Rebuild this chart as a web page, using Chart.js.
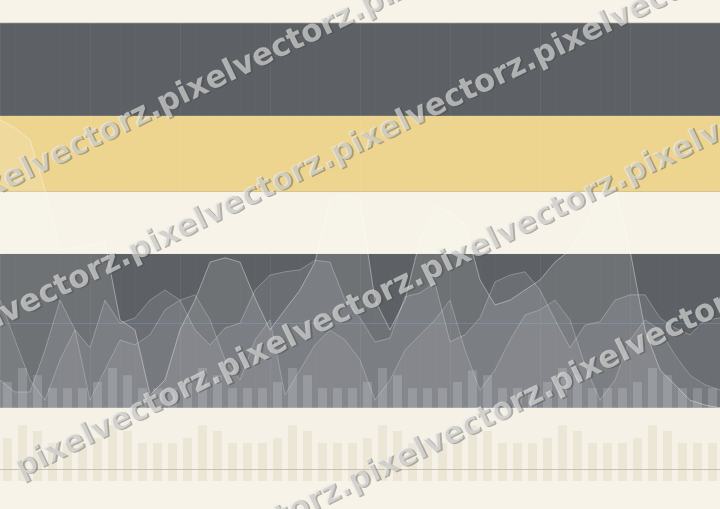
<!DOCTYPE html>
<html>
<head>
<meta charset="utf-8">
<script src="https://cdn.jsdelivr.net/npm/chart.js@4"></script>
<style>
  html, body { margin: 0; padding: 0; background: #f7f3e8; }
  canvas { display: block; }
</style>
</head>
<body>
<canvas id="chart" width="720" height="509"></canvas>
<script>
// values, y scale 0..100
const peakSeries = [75.1, 73.4, 70.9, 60.5, 48.0, 48.6, 49.1, 49.5, 33.5, 31.4, 17.9, 21.0, 31.4, 37.6, 45.5, 46.4, 45.5, 38.0, 31.4, 35.6, 39.7, 45.5, 58.4, 59.5, 58.4, 37.6, 31.4, 37.6, 50.1, 57.0, 55.9, 53.2, 41.8, 36.6, 37.6, 39.7, 41.8, 45.5, 48.0, 53.2, 59.5, 60.9, 48.0, 31.4, 23.1, 20.0, 16.8, 15.8, 15.2];
const midSeries = [21.0, 18.5, 18.5, 27.2, 37.6, 31.4, 27.7, 37.6, 32.8, 33.9, 37.6, 39.7, 37.6, 31.4, 28.3, 31.8, 32.8, 39.7, 42.8, 43.5, 43.9, 45.9, 45.5, 37.6, 33.9, 28.9, 29.7, 38.3, 39.1, 41.2, 28.9, 30.4, 33.9, 41.4, 42.8, 43.5, 39.7, 33.5, 27.7, 32.4, 33.1, 37.6, 38.7, 38.7, 33.9, 31.8, 30.4, 33.5, 33.9];
const lowSeries = [37.6, 29.3, 21.0, 16.8, 25.2, 31.4, 16.8, 23.1, 29.3, 28.3, 30.4, 35.6, 37.6, 38.7, 33.5, 25.2, 21.0, 29.3, 33.5, 17.9, 23.1, 28.3, 31.4, 29.3, 25.2, 16.8, 21.0, 27.2, 30.4, 33.5, 37.6, 27.2, 18.9, 23.1, 29.3, 34.5, 35.6, 37.6, 33.5, 24.1, 16.8, 21.0, 29.3, 33.5, 31.4, 26.2, 22.0, 20.0, 18.9];

// bars: upper ones float on the dark band, lower ones stand on the base
const barBase = 15.2;
const upperBars = [20.6, 23.5, 22.0, 19.3, 19.3, 19.3, 20.6, 23.5, 22.0, 19.3, 19.3, 19.3, 20.6, 23.5, 22.0, 19.3, 19.3, 19.3, 20.6, 23.5, 22.0, 19.3, 19.3, 19.3, 20.6, 23.5, 22.0, 19.3, 19.3, 19.3, 20.6, 23.0, 22.0, 19.3, 19.3, 19.3, 20.6, 23.5, 22.0, 19.3, 19.3, 19.3, 20.6, 23.5, 22.0, 19.3, 19.3, 19.3];
const lowerBars = [8.9, 11.6, 10.4, 7.9, 7.9, 7.9, 8.9, 11.6, 10.4, 7.9, 7.9, 7.9, 8.9, 11.6, 10.4, 7.9, 7.9, 7.9, 8.9, 11.6, 10.4, 7.9, 7.9, 7.9, 8.9, 11.6, 10.4, 7.9, 7.9, 7.9, 8.9, 11.6, 10.4, 7.9, 7.9, 7.9, 8.9, 11.6, 10.4, 7.9, 7.9, 7.9, 8.9, 11.6, 10.4, 7.9, 7.9, 7.9];

const barLabels = Array.from({ length: upperBars.length }, (_, i) => `b${i + 1}`);
const lineLabels = Array.from({ length: peakSeries.length }, (_, i) => `p${i}`);
const gridLevels = [2.3, 32.8];

const bands = {
  id: 'bands',
  beforeDraw(chart) {
    const { ctx, width, height, chartArea: { left, right } } = chart;
    const y = chart.scales.y;
    const rows = [
      [100, 95.2, '#f7f3e8'],
      [95.2, 75.9, '#5d6165'],
      [75.9, 60.1, '#edd590'],
      [60.1, 47.2, '#f7f3e8'],
      [47.2, 15.2, '#5d6165'],
      [15.2, 0, '#f5f0e2'],
    ];
    ctx.save();
    ctx.fillStyle = '#f7f3e8';
    ctx.fillRect(0, 0, width, height);
    rows.forEach(([from, to, color]) => {
      const top = y.getPixelForValue(from);
      const bottom = y.getPixelForValue(to);
      ctx.fillStyle = color;
      ctx.fillRect(left, top, right - left, bottom - top);
    });
    ctx.fillStyle = '#d4c48c';
    ctx.fillRect(left, y.getPixelForValue(60.1) - 1, right - left, 1);
    ctx.fillStyle = '#d9d4c6';
    ctx.fillRect(left, y.getPixelForValue(95.2) - 1, right - left, 1);
    ctx.restore();
  },
};

const watermark = {
  id: 'watermark',
  afterDraw(chart) {
    const { ctx } = chart;
    const text = 'pixelvectorz.pixelvectorz.pixelvectorz.pixelvectorz.';
    ctx.save();
    ctx.font = 'bold 31px "DejaVu Sans"';
    ctx.textBaseline = 'alphabetic';
    [[-40, 212], [-70, 360], [20, 478], [150, 590]].forEach(([x, yy]) => {
      ctx.save();
      ctx.translate(x, yy);
      ctx.rotate(-0.45);
      ctx.fillStyle = 'rgba(70,70,70,0.4)';
      ctx.fillText(text, 1.5, 1.5);
      ctx.fillStyle = 'rgba(232,232,230,0.62)';
      ctx.fillText(text, 0, 0);
      ctx.restore();
    });
    ctx.restore();
  },
};

const area = (data, fill, line) => ({
  type: 'line',
  data,
  xAxisID: 'xl',
  borderColor: line,
  borderWidth: 1,
  backgroundColor: fill,
  fill: { value: 0 },
  pointRadius: 0,
  tension: 0,
});

new Chart(document.getElementById('chart'), {
  data: {
    labels: barLabels,
    datasets: [
      area(peakSeries, 'rgba(255,255,255,0.11)', 'rgba(255,255,255,0.38)'),
      area(midSeries, 'rgba(235,240,245,0.10)', 'rgba(220,230,240,0.32)'),
      area(lowSeries, 'rgba(255,255,255,0.08)', 'rgba(255,255,255,0.24)'),
      {
        type: 'bar',
        data: upperBars.map((v) => [barBase, v]),
        backgroundColor: 'rgba(255,255,255,0.16)',
        barPercentage: 0.6,
        categoryPercentage: 1,
        grouped: false,
      },
      {
        type: 'bar',
        data: lowerBars,
        backgroundColor: 'rgba(185,165,110,0.2)',
        barPercentage: 0.6,
        categoryPercentage: 1,
        grouped: false,
      },
    ],
  },
  options: {
    responsive: false,
    animation: false,
    layout: { padding: { bottom: 28 } },
    plugins: { legend: { display: false }, tooltip: { enabled: false } },
    scales: {
      x: {
        offset: true,
        ticks: { display: false },
        border: { display: false },
        grid: {
          drawTicks: false,
          color: (c) => (c.index % 6 === 0 ? 'rgba(255,255,255,0.05)' : 'rgba(255,255,255,0.015)'),
        },
      },
      xl: {
        type: 'category',
        labels: lineLabels,
        offset: false,
        display: false,
      },
      y: {
        min: 0,
        max: 100,
        ticks: { display: false },
        border: { display: false },
        grid: {
          drawTicks: false,
          color: (c) => (c.tick && c.tick.value === 2.3 ? '#b9ae99' : 'rgba(110,150,200,0.35)'),
        },
        afterBuildTicks: (scale) => {
          scale.ticks = gridLevels.map((value) => ({ value }));
        },
      },
    },
  },
  plugins: [bands, watermark],
});
</script>
</body>
</html>
